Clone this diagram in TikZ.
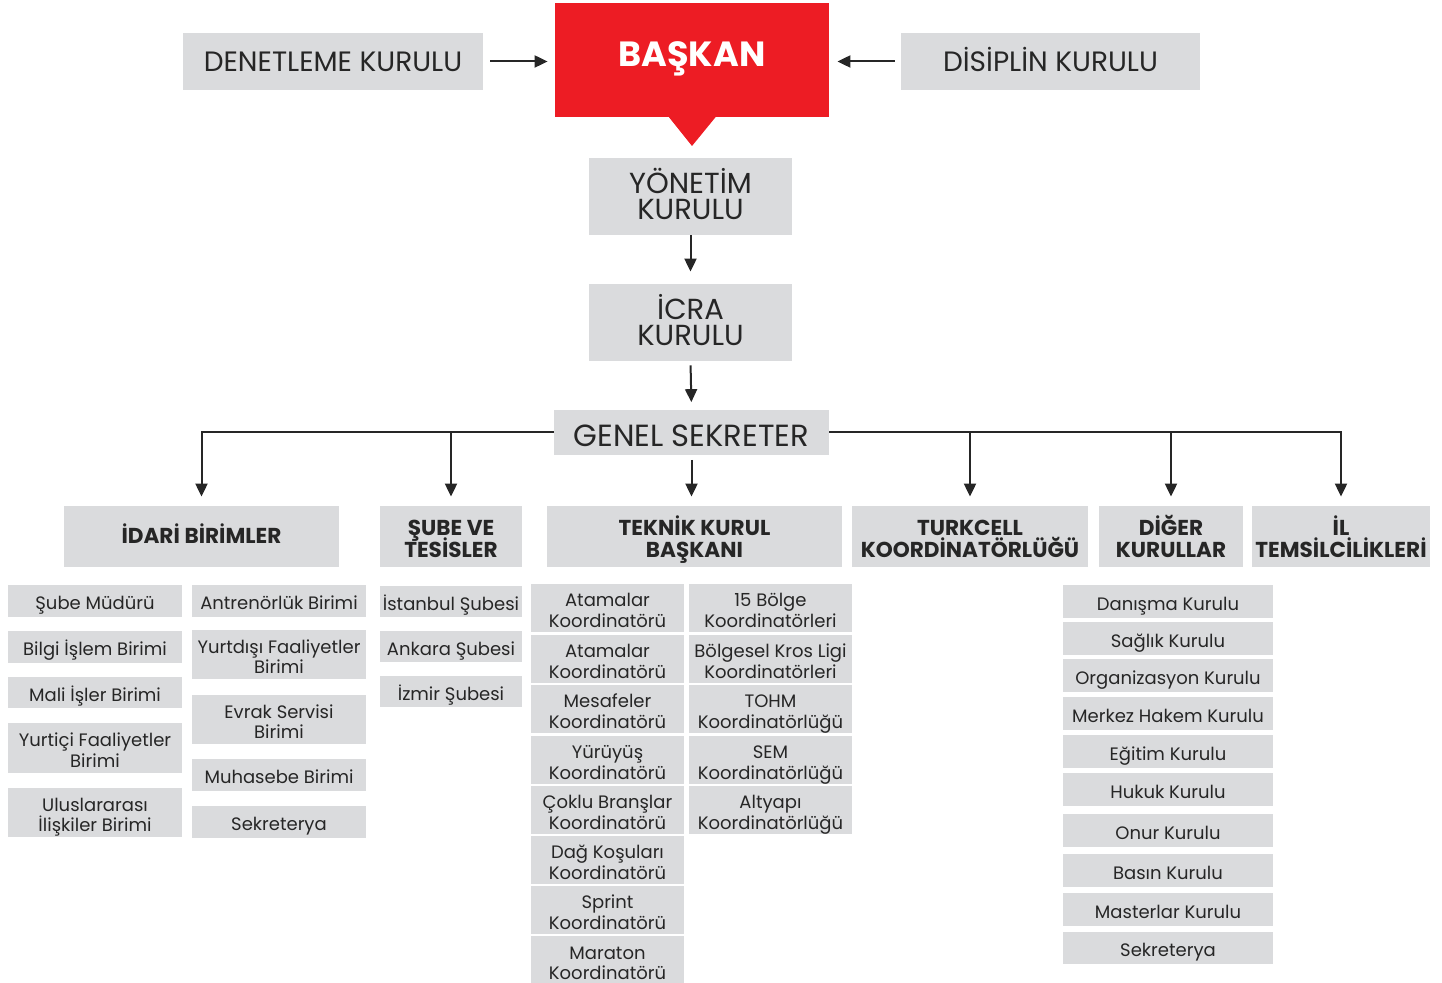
\documentclass[tikz,border=0pt]{standalone}
\usepackage{fontspec}
\setmainfont{Poppins}
\usetikzlibrary{arrows.meta}
\definecolor{boxgrey}{HTML}{DADBDD}
\definecolor{bred}{HTML}{ED1C24}
\definecolor{ink}{HTML}{262626}
\lineskiplimit=-100pt
\lineskip=0pt
\newcommand\smstrut{\rule[-0.3em]{0pt}{1.58em}}
\newcommand\hdstrut{\rule[-0.3em]{0pt}{1.52em}}
\newcommand\idstrut{\rule[-0.3em]{0pt}{1.24em}}
\newcommand\tpstrut{\rule[-0.3em]{0pt}{1.3em}}
\newcommand\gsstrut{\rule[-0.3em]{0pt}{1.5em}}
\newcommand\ns{}
\newcommand\bx[7][gbox]{\node[#1, minimum width={(#5-#3)*0.5pt}, minimum height={(#6-#4)*0.5pt}] (#2) at ({(#3+#5)/2},{(#4+#6)/2}) {\ns#7\ns};}
\tikzset{
  gbox/.style={fill=boxgrey, inner sep=0pt, align=center, text=ink, font=\fontsize{9}{10.25}\selectfont\let\ns\smstrut},
  topbox/.style={fill=boxgrey, inner sep=0pt, align=center, text=ink, font=\fontsize{14}{13}\selectfont\let\ns\tpstrut},
  chainbox/.style={topbox, font=\fontsize{14.5}{13}\selectfont\let\ns\tpstrut},
  headbox/.style={fill=boxgrey, inner sep=0pt, align=center, text=ink, font=\fontsize{10.8}{11}\selectfont\bfseries\let\ns\hdstrut},
  redbox/.style={fill=bred, inner sep=0pt},
  arr/.style={draw=ink, line width=1pt, -{Triangle[length=6.5pt,width=6pt]}},
}
\begin{document}
\begin{tikzpicture}[x=0.5pt,y=-0.5pt]
\useasboundingbox (0,0) rectangle (1442,983);
% top row
\bx[topbox]{den}{183}{33}{483}{90}{DENETLEME KURULU}
\bx[topbox]{dis}{901}{33}{1200}{90}{DİSİPLİN KURULU}
\bx[redbox]{baskan}{555}{3}{829}{117}{}
\fill[bred] (668,116) -- (716.5,116) -- (692,146) -- cycle;
\node[text=white, font=\fontsize{17.5}{18}\selectfont\bfseries, inner sep=0pt, anchor=base] (baskantxt) at (692,67) {BAŞKAN};
\draw[arr, shorten <=3.5pt, shorten >=3.5pt] (den.east) -- (den.east -| baskan.west);
\draw[arr, shorten <=3pt, shorten >=4pt] (dis.west) -- (dis.west -| baskan.east);
% chain
\bx[chainbox]{yon}{589}{158}{792}{235}{YÖNETİM\\KURULU}
\bx[chainbox]{icra}{589}{284}{792}{361}{İCRA\\KURULU}
\bx[chainbox, font=\fontsize{15.3}{13}\selectfont\let\ns\gsstrut]{gs}{554}{410}{829}{455}{GENEL SEKRETER}
\draw[arr, shorten >=6pt] (yon.south) -- (icra.north);
\draw[arr, shorten <=2pt, shorten >=3.5pt] (icra.south) -- (gs.north);
% headers
\bx[headbox, font=\fontsize{10.8}{11}\selectfont\bfseries\let\ns\idstrut]{idari}{64}{506}{339}{567}{İDARİ BİRİMLER}
\bx[headbox]{sube}{380}{506}{522}{567}{ŞUBE VE\\TESİSLER}
\bx[headbox]{teknik}{547}{506}{842}{567}{TEKNİK KURUL\\BAŞKANI}
\bx[headbox]{turk}{852}{506}{1088}{567}{TURKCELL\\KOORDİNATÖRLÜĞÜ}
\bx[headbox]{diger}{1099}{506}{1243}{567}{DİĞER\\KURULLAR}
\bx[headbox]{il}{1252}{506}{1430}{567}{İL\\TEMSİLCİLİKLERİ}
\draw[arr, shorten >=4.5pt] (gs.west) -| (idari.north);
\draw[arr, shorten >=4.5pt] (gs.west) -| (sube.north);
\draw[arr, shorten <=2pt, shorten >=4.5pt] (gs.south) -- (gs.south |- teknik.north);
\draw[arr, shorten >=4.5pt] (gs.east) -| (turk.north);
\draw[arr, shorten >=4.5pt] (gs.east) -| (diger.north);
\draw[arr, shorten >=4.5pt] (gs.east) -| (il.north);
% idari left
\bx{i1}{8}{585}{182}{617}{Şube Müdürü}
\bx{i2}{8}{631}{182}{663}{Bilgi İşlem Birimi}
\bx{i3}{8}{677}{182}{708}{Mali İşler Birimi}
\bx{i4}{8}{723}{182}{773}{Yurtiçi Faaliyetler\\Birimi}
\bx{i5}{8}{788}{182}{837}{Uluslararası\\İlişkiler Birimi}
% idari right
\bx{j1}{192}{585}{366}{617}{Antrenörlük Birimi}
\bx{j2}{192}{630}{366}{679}{Yurtdışı Faaliyetler\\Birimi}
\bx{j3}{192}{695}{366}{744}{Evrak Servisi\\Birimi}
\bx{j4}{192}{759}{366}{791}{Muhasebe Birimi}
\bx{j5}{192}{806}{366}{838}{Sekreterya}
% sube
\bx{s1}{380}{586}{522}{617}{İstanbul Şubesi}
\bx{s2}{380}{631}{522}{662}{Ankara Şubesi}
\bx{s3}{380}{676}{522}{707}{İzmir Şubesi}
% teknik col 1
\bx{t1}{531}{585}{684}{631}{Atamalar\\Koordinatörü}
\bx{t2}{531}{636}{684}{682}{Atamalar\\Koordinatörü}
\bx{t3}{531}{686}{684}{732}{Mesafeler\\Koordinatörü}
\bx{t4}{531}{737}{684}{783}{Yürüyüş\\Koordinatörü}
\bx{t5}{531}{787}{684}{833}{Çoklu Branşlar\\Koordinatörü}
\bx{t6}{531}{837}{684}{883}{Dağ Koşuları\\Koordinatörü}
\bx{t7}{531}{887}{684}{933}{Sprint\\Koordinatörü}
\bx{t8}{531}{938}{684}{983}{Maraton\\Koordinatörü}
% teknik col 2
\bx{u1}{689}{585}{852}{631}{15 Bölge\\Koordinatörleri}
\bx{u2}{689}{636}{852}{682}{Bölgesel Kros Ligi\\Koordinatörleri}
\bx{u3}{689}{686}{852}{732}{TOHM\\Koordinatörlüğü}
\bx{u4}{689}{737}{852}{783}{SEM\\Koordinatörlüğü}
\bx{u5}{689}{787}{852}{833}{Altyapı\\Koordinatörlüğü}
% diger
\bx{d1}{1063}{585}{1273}{618}{Danışma Kurulu}
\bx{d2}{1063}{622}{1273}{655}{Sağlık Kurulu}
\bx{d3}{1063}{659}{1273}{692}{Organizasyon Kurulu}
\bx{d4}{1063}{697}{1273}{730}{Merkez Hakem Kurulu}
\bx{d5}{1063}{735}{1273}{768}{Eğitim Kurulu}
\bx{d6}{1063}{773}{1273}{806}{Hukuk Kurulu}
\bx{d7}{1063}{814}{1273}{847}{Onur Kurulu}
\bx{d8}{1063}{854}{1273}{887}{Basın Kurulu}
\bx{d9}{1063}{893}{1273}{926}{Masterlar Kurulu}
\bx{d10}{1063}{932}{1273}{964}{Sekreterya}
\end{tikzpicture}
\end{document}
